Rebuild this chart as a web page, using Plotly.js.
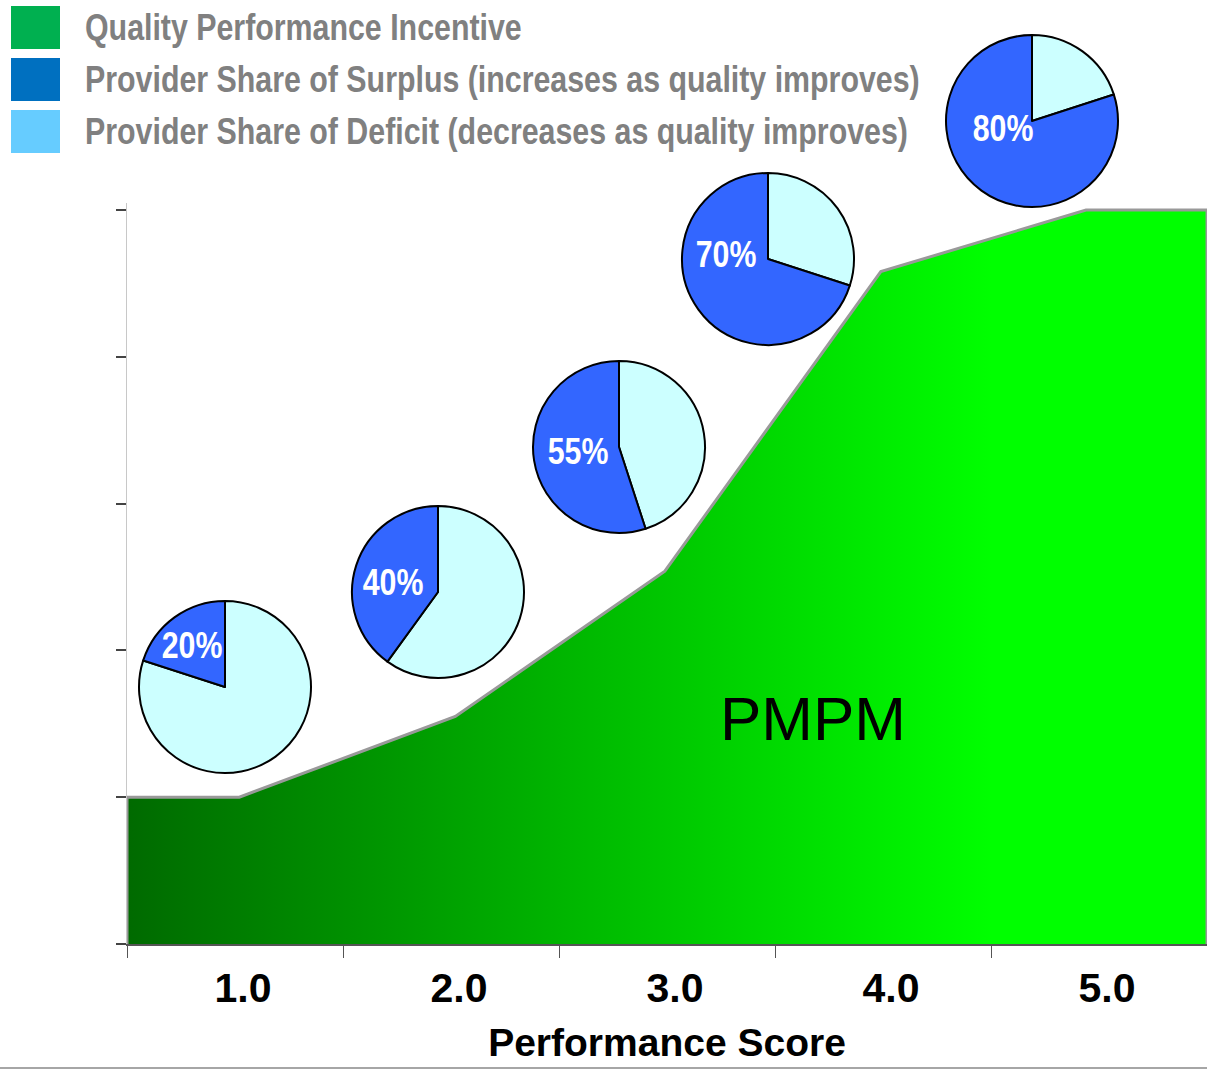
<!DOCTYPE html>
<html>
<head>
<meta charset="utf-8">
<script src="https://cdn.plot.ly/plotly-3.0.1.min.js"></script>
<style>
  html, body { margin: 0; padding: 0; background: #ffffff; }
  #chart { width: 1207px; height: 1071px; }
</style>
</head>
<body>
<div id="chart"></div>
<script>
// Incentive curve: PMPM level by performance score
const curveScores = [0.5, 1.02, 2.02, 2.99, 3.99, 4.94, 5.5];
const curvePmpm   = [1.0, 1.0, 1.55, 2.54, 4.58, 5.0, 5.0];

// Score axis labels
const scoreTicks  = [1, 2, 3, 4, 5];
const scoreLabels = ['1.0', '2.0', '3.0', '4.0', '5.0'];
const scoreBounds = [0.5, 1.5, 2.5, 3.5, 4.5, 5.5];

// Provider share of surplus / deficit at each step (percent)
const surplusShare = [20, 40, 55, 70, 80];
const deficitShare = [80, 60, 45, 30, 20];

// Legend entries
const legendLabels = [
  'Quality Performance Incentive',
  'Provider Share of Surplus (increases as quality improves)',
  'Provider Share of Deficit (decreases as quality improves)'
];
const legendColors = ['#00b050', '#0070c0', '#66ccff'];

const W = 1207, H = 1071;
const px = v => v / W;
const py = v => 1 - v / H;

const SANS = '"Liberation Sans", Arial, sans-serif';

// Pie placement (pixel centres) and radius
const pieCentres = [[225, 687], [438, 592], [619, 447], [768, 259], [1032, 121]];
const pieR = 86;
const pieLabelPos = [[192, 645], [393, 582], [578, 451], [726, 254], [1003, 128]];

// Closed outline of the area (left edge, stepped top, right edge)
const areaX = [curveScores[0]].concat(curveScores, [curveScores[curveScores.length - 1]]);
const areaY = [0].concat(curvePmpm, [0]);

const traces = [{
  type: 'scatter',
  mode: 'lines',
  x: areaX,
  y: areaY,
  fill: 'toself',
  fillgradient: {
    type: 'horizontal',
    colorscale: [[0, '#006a00'], [0.8, '#00ff00'], [1, '#00ff00']]
  },
  line: { color: '#999999', width: 3 },
  hoverinfo: 'skip',
  showlegend: false
}];

// Deficit slice runs clockwise from 12 o'clock, so the surplus share
// closes the circle on the left-hand side.
surplusShare.forEach((s, i) => {
  const [cx, cy] = pieCentres[i];
  traces.push({
    type: 'pie',
    values: [deficitShare[i], s],
    labels: ['Deficit', 'Surplus'],
    sort: false,
    direction: 'clockwise',
    rotation: 0,
    textinfo: 'none',
    textposition: 'none',
    hoverinfo: 'skip',
    showlegend: false,
    marker: { colors: ['#ccffff', '#3366ff'], line: { color: '#000000', width: 2 } },
    domain: { x: [px(cx - pieR), px(cx + pieR)], y: [py(cy + pieR), py(cy - pieR)] }
  });
});

// Annotations that are set in a condensed face (squeezed after drawing)
const SQUEEZE = 0.82;
const condensed = [];
const annotations = [];
surplusShare.forEach((s, i) => {
  condensed.push(annotations.length);
  annotations.push({
    xref: 'paper', yref: 'paper',
    x: px(pieLabelPos[i][0]), y: py(pieLabelPos[i][1]),
    xanchor: 'center', yanchor: 'middle',
    text: s + '%', showarrow: false,
    font: { family: SANS, size: 37, color: '#ffffff', weight: 'bold' }
  });
});
annotations.push({
  xref: 'paper', yref: 'paper',
  x: px(813), y: py(718), xanchor: 'center', yanchor: 'middle',
  text: 'PMPM', showarrow: false,
  font: { family: SANS, size: 62, color: '#000000' }
});

const legendRows = [[6, 49], [58, 101], [110, 153]];
const shapes = [];
legendLabels.forEach((t, i) => {
  const [y0, y1] = legendRows[i];
  shapes.push({
    type: 'rect', xref: 'paper', yref: 'paper',
    x0: px(11), x1: px(60), y0: py(y1), y1: py(y0),
    fillcolor: legendColors[i], line: { width: 0 }
  });
  condensed.push(annotations.length);
  annotations.push({
    xref: 'paper', yref: 'paper',
    x: px(83), y: py((y0 + y1) / 2), xanchor: 'left', yanchor: 'middle',
    text: t, showarrow: false,
    font: { family: SANS, size: 37, color: '#808080', weight: 'bold' }
  });
});
// bottom rule across the figure
shapes.push({
  type: 'line', xref: 'paper', yref: 'paper',
  x0: 0, x1: 1, y0: py(1068), y1: py(1068),
  line: { color: '#a6a6a6', width: 2 }
});

const yTop = 944 - 5.05 * 146.8;

const layout = {
  width: W, height: H,
  margin: { l: 0, r: 0, t: 0, b: 0 },
  paper_bgcolor: '#ffffff',
  plot_bgcolor: '#ffffff',
  showlegend: false,
  xaxis: {
    domain: [px(127), 1],
    range: [0.5, 5.5],
    tickvals: scoreTicks,
    ticktext: scoreLabels,
    ticks: '',
    ticklabelshift: 8,
    ticklabelstandoff: 7,
    tickfont: { family: SANS, size: 41, color: '#000000', weight: 'bold' },
    minor: { tickvals: scoreBounds, ticks: 'outside', ticklen: 12, tickwidth: 1, tickcolor: '#555555', showgrid: false },
    showline: true, linecolor: '#555555', linewidth: 2,
    showgrid: false, zeroline: false,
    fixedrange: true,
    title: {
      text: 'Performance Score',
      font: { family: SANS, size: 39, color: '#000000', weight: 'bold' },
      standoff: 18
    }
  },
  yaxis: {
    domain: [py(944), py(yTop)],
    range: [0, 5.05],
    tickvals: [0, 1, 2, 3, 4, 5],
    showticklabels: false,
    ticks: 'outside', ticklen: 10, tickwidth: 2, tickcolor: '#444444',
    showline: true, linecolor: '#c8c8c8', linewidth: 1,
    showgrid: false, zeroline: false,
    fixedrange: true
  },
  shapes: shapes,
  annotations: annotations
};

// Narrow the condensed labels horizontally (Arial Narrow proportions)
function condense(gd) {
  const groups = gd.querySelectorAll('.annotation');
  condensed.forEach(idx => {
    const g = groups[idx];
    if (!g) return;
    const t = g.querySelector('text.annotation-text');
    if (!t) return;
    const w = t.getComputedTextLength();
    const nw = w * SQUEEZE;
    const bb = t.getBBox();
    const left = annotations[idx].xanchor === 'left';
    if (left) {
      // pin the left edge before squeezing
      t.setAttribute('text-anchor', 'start');
      t.setAttribute('x', bb.x.toFixed(1));
    }
    t.setAttribute('textLength', nw.toFixed(1));
    t.setAttribute('lengthAdjust', 'spacingAndGlyphs');
    // shrink the annotation box to the squeezed text
    g.querySelectorAll('rect').forEach(r => {
      const rw = parseFloat(r.getAttribute('width'));
      if (!isFinite(rw)) return;
      const d = w - nw;
      r.setAttribute('width', (rw - d).toFixed(1));
      if (!left) {
        const rx = parseFloat(r.getAttribute('x')) || 0;
        r.setAttribute('x', (rx + d / 2).toFixed(1));
      }
    });
  });
}

Plotly.newPlot('chart', traces, layout, { displayModeBar: false, staticPlot: true })
  .then(gd => condense(gd));
</script>
</body>
</html>
